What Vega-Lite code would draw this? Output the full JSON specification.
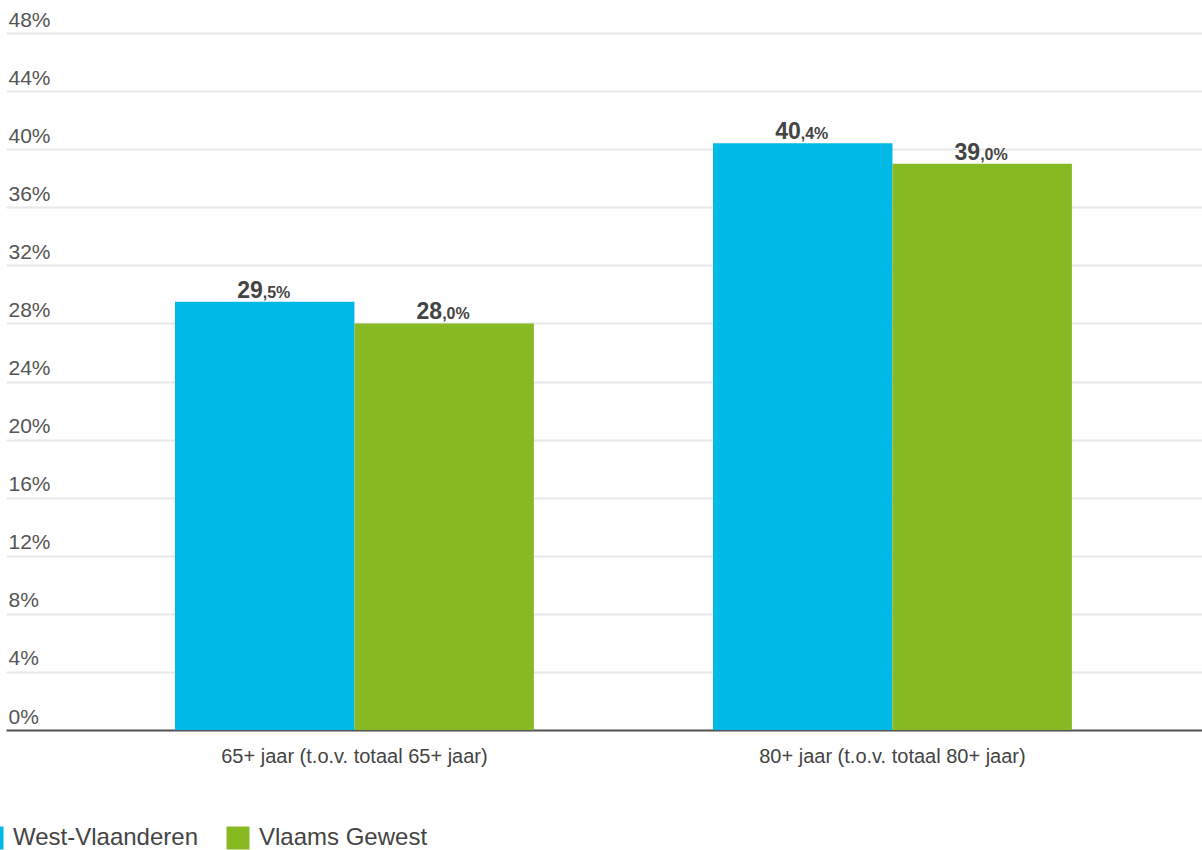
{
  "$schema": "https://vega.github.io/schema/vega-lite/v6.json",
  "width": 1196,
  "height": 697,
  "autosize": "none",
  "padding": {"left": 6, "top": 33, "right": 0, "bottom": 120},
  "background": "white",
  "config": {
    "view": {"stroke": null},
    "font": "Liberation Sans"
  },
  "data": {
    "values": [
      {"categorie": "65+ jaar (t.o.v. totaal 65+ jaar)", "reeks": "West-Vlaanderen", "waarde": 29.5, "geheel": "29", "decimaal": ",5%"},
      {"categorie": "65+ jaar (t.o.v. totaal 65+ jaar)", "reeks": "Vlaams Gewest", "waarde": 28.0, "geheel": "28", "decimaal": ",0%"},
      {"categorie": "80+ jaar (t.o.v. totaal 80+ jaar)", "reeks": "West-Vlaanderen", "waarde": 40.4, "geheel": "40", "decimaal": ",4%"},
      {"categorie": "80+ jaar (t.o.v. totaal 80+ jaar)", "reeks": "Vlaams Gewest", "waarde": 39.0, "geheel": "39", "decimaal": ",0%"}
    ]
  },
  "encoding": {
    "x": {
      "field": "categorie",
      "type": "nominal",
      "sort": null,
      "scale": {"paddingInner": 0.333, "paddingOuter": 0.278, "align": 0.565},
      "axis": {
        "title": null,
        "labelAngle": 0,
        "labelFontSize": 20,
        "labelColor": "#444444",
        "labelPadding": 16,
        "labelLimit": 600,
        "ticks": false,
        "domain": true,
        "domainColor": "#555555",
        "domainWidth": 2,
        "grid": false
      }
    },
    "xOffset": {
      "field": "reeks",
      "type": "nominal",
      "sort": ["West-Vlaanderen", "Vlaams Gewest"],
      "scale": {"paddingInner": 0, "paddingOuter": 0}
    },
    "y": {
      "field": "waarde",
      "type": "quantitative",
      "scale": {"domain": [0, 48], "nice": false},
      "axis": {
        "title": null,
        "values": [0, 4, 8, 12, 16, 20, 24, 28, 32, 36, 40, 44, 48],
        "labelExpr": "datum.value + '%'",
        "labelAlign": "left",
        "labelBaseline": "alphabetic",
        "labelPadding": -2,
        "labelOffset": -7,
        "labelFontSize": 21,
        "labelColor": "#555555",
        "ticks": false,
        "domain": false,
        "grid": true,
        "gridColor": "#e8e8e8",
        "gridWidth": 2
      }
    }
  },
  "layer": [
    {
      "mark": {"type": "bar"},
      "encoding": {
        "color": {
          "field": "reeks",
          "type": "nominal",
          "scale": {"domain": ["West-Vlaanderen", "Vlaams Gewest"], "range": ["#00b9e7", "#87b923"]},
          "legend": {
            "title": null,
            "orient": "none",
            "legendX": -26,
            "legendY": 793,
            "direction": "horizontal",
            "symbolType": "square",
            "symbolSize": 529,
            "symbolStrokeWidth": 0,
            "labelFontSize": 24,
            "labelColor": "#444444",
            "labelOffset": 9,
            "columnPadding": 28,
            "labelLimit": 400
          }
        }
      }
    },
    {
      "mark": {"type": "text", "align": "right", "baseline": "alphabetic", "dx": -2, "dy": -4, "fontSize": 23, "fontWeight": "bold", "color": "#444444"},
      "encoding": {"text": {"field": "geheel"}}
    },
    {
      "mark": {"type": "text", "align": "left", "baseline": "alphabetic", "dx": -2, "dy": -4, "fontSize": 16, "fontWeight": "bold", "color": "#444444"},
      "encoding": {"text": {"field": "decimaal"}}
    }
  ]
}
